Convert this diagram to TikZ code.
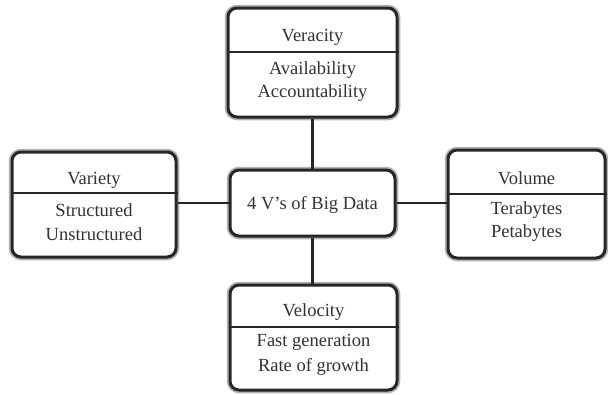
\documentclass[tikz,border=0pt]{standalone}
\usepackage{fontspec}
\setmainfont{Liberation Serif}
\begin{document}
\begin{tikzpicture}[x=1pt,y=-1pt,
  box/.style={draw=black!85, line width=3pt, rounded corners=9pt, fill=white,
    preaction={draw=black!30, line width=6.5pt}, inner sep=0pt},
  lbl/.style={text=black!80, font=\fontsize{18.5}{21}\selectfont, inner sep=0pt},
  divider/.style={draw=black!85, line width=2pt},
  link/.style={draw=black!85, line width=2.5pt}]
\useasboundingbox (0,0) rectangle (608,394);
% boxes
\node[box, minimum width=169pt, minimum height=109pt] (ver) at (312.5,62.5) {};
\node[box, minimum width=165pt, minimum height=66pt] (core) at (312.5,203) {};
\node[box, minimum width=164pt, minimum height=105pt] (var) at (94,204.5) {};
\node[box, minimum width=157pt, minimum height=108pt] (vol) at (526.5,204) {};
\node[box, minimum width=167pt, minimum height=105pt] (vel) at (313.5,337.5) {};
% connectors
\draw[link] (ver.south -| core.north) -- (core.north);
\draw[link] (core.south) -- (core.south |- vel.north);
\draw[link] (core.west -| var.east) -- (core.west);
\draw[link] (core.east) -- (core.east -| vol.west);
% dividers
\coordinate (verL) at (ver.west |- 0,52);
\coordinate (verR) at (ver.east |- 0,52);
\draw[divider] (verL) -- (verR);
\coordinate (varL) at (var.west |- 0,193);
\coordinate (varR) at (var.east |- 0,193);
\draw[divider] (varL) -- (varR);
\coordinate (volL) at (vol.west |- 0,194);
\coordinate (volR) at (vol.east |- 0,194);
\draw[divider] (volL) -- (volR);
\coordinate (velL) at (vel.west |- 0,327);
\coordinate (velR) at (vel.east |- 0,327);
\draw[divider] (velL) -- (velR);
% texts
\node[lbl] (t1) at (312.5,37) {Veracity};
\node[lbl] (t2) at (312.5,70) {Availability};
\node[lbl] (t3) at (312.5,93) {Accountability};
\node[lbl] (t4) at (312.5,205) {4 V's of Big Data};
\node[lbl] (t5) at (94,180) {Variety};
\node[lbl] (t6) at (94,210) {Structured};
\node[lbl] (t7) at (94,234) {Unstructured};
\node[lbl] (t8) at (526.5,178) {Volume};
\node[lbl] (t9) at (526.5,210) {Terabytes};
\node[lbl] (t10) at (526.5,233) {Petabytes};
\node[lbl] (t11) at (313.5,312) {Velocity};
\node[lbl] (t12) at (313.5,342) {Fast generation};
\node[lbl] (t13) at (313.5,367) {Rate of growth};
\end{tikzpicture}
\end{document}
